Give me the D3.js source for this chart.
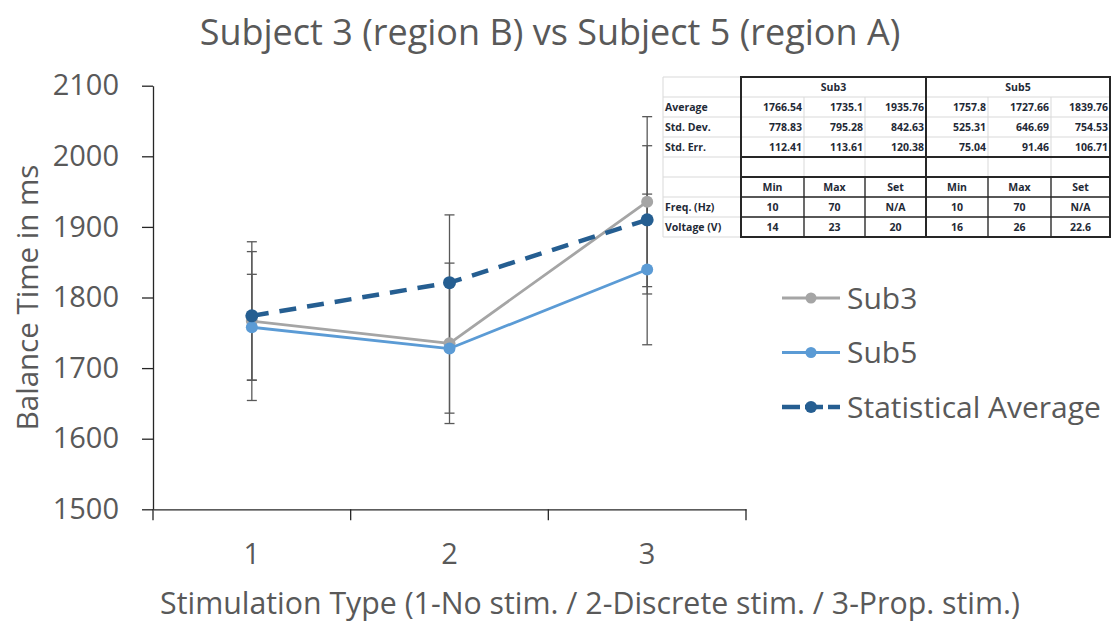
<!DOCTYPE html>
<html>
<head>
<meta charset="utf-8">
<script src="https://cdn.jsdelivr.net/npm/d3@7"></script>
<style>
  body { margin: 0; background: #fff; }
  svg { display: block; font-family: "Open Sans", Lato, sans-serif; }
</style>
</head>
<body>
<svg id="chart" width="1113" height="622"></svg>
<script>
// chart data
var stimTypes = [1, 2, 3]
var sub3Avg = [1766.54, 1735.1, 1935.76]
var sub5Avg = [1757.8, 1727.66, 1839.76]
var statAvg = [1774, 1821, 1910]
var sub3Err = [112.41, 113.61, 120.38]
var sub5Err = [75.04, 91.46, 106.71]
var statErr = [91, 96, 105]
var sub3Dev = [778.83, 795.28, 842.63]
var sub5Dev = [525.31, 646.69, 754.53]
var yTicks = [1500, 1600, 1700, 1800, 1900, 2000, 2100]
var seriesNames = ['Sub3', 'Sub5', 'Statistical Average']

// table data
var subjects = ['Sub3', 'Sub5']
var statLabels = ['Average', 'Std. Dev.', 'Std. Err.']
var paramCols = ['Min', 'Max', 'Set']
var paramLabels = ['Freq. (Hz)', 'Voltage (V)']
var sub3Params = [['10', '70', 'N/A'], ['14', '23', '20']]
var sub5Params = [['10', '70', 'N/A'], ['16', '26', '22.6']]

var svg = d3.select('#chart')
var textCol = '#595959'

var plotLeft = 153, plotRight = 746, plotTop = 85.7, plotBottom = 509.3

var x = d3.scaleBand().domain(stimTypes).range([plotLeft, plotRight]).paddingInner(0).paddingOuter(0)
var y = d3.scaleLinear().domain([1500, 2100]).range([plotBottom, plotTop])
var cx = function(d){ return x(d) + x.bandwidth() / 2 }

// title
svg.append('text')
  .attr('x', 550).attr('y', 45)
  .attr('text-anchor', 'middle')
  .style('font-size', '36px')
  .style('fill', textCol)
  .text('Subject 3 (region B) vs Subject 5 (region A)')

// y axis
var yAxis = svg.append('g')
  .attr('transform', 'translate(' + plotLeft + ',0)')
  .call(d3.axisLeft(y).tickValues(yTicks).tickFormat(d3.format('d')).tickSize(11).tickPadding(23).tickSizeOuter(0))
yAxis.select('.domain').attr('stroke', '#262626').attr('stroke-width', 1.3)
yAxis.selectAll('.tick line').attr('stroke', '#262626').attr('stroke-width', 1.3)
yAxis.selectAll('.tick text').style('font-size', '29px').style('fill', textCol).style('font-family', '"Open Sans", sans-serif')

// x axis
var xAxis = svg.append('g')
  .attr('transform', 'translate(0,' + plotBottom + ')')
  .call(d3.axisBottom(x).tickSize(0).tickPadding(34))
xAxis.select('.domain').attr('stroke', '#262626').attr('stroke-width', 1.3)
xAxis.selectAll('.tick text').style('font-size', '29px').style('fill', textCol).style('font-family', '"Open Sans", sans-serif')
var edges = stimTypes.map(function(d){ return x(d) }).concat([x.range()[1]])
xAxis.selectAll('.edge')
  .data(edges)
  .enter().append('line')
  .attr('x1', function(d){ return d }).attr('x2', function(d){ return d })
  .attr('y1', 0).attr('y2', 11)
  .attr('stroke', '#262626').attr('stroke-width', 1.3)

// axis titles
svg.append('text')
  .attr('transform', 'translate(38,' + ((plotTop + plotBottom) / 2) + ') rotate(-90)')
  .attr('text-anchor', 'middle')
  .style('font-size', '29.5px')
  .style('fill', textCol)
  .text('Balance Time in ms')

svg.append('text')
  .attr('x', 590).attr('y', 614)
  .attr('text-anchor', 'middle')
  .style('font-size', '30.3px')
  .style('fill', textCol)
  .text('Stimulation Type (1-No stim. / 2-Discrete stim. / 3-Prop. stim.)')

var series = [
  {name: seriesNames[0], vals: sub3Avg, err: sub3Err, color: '#a5a5a5', width: 2.8, dash: null, r: 6},
  {name: seriesNames[1], vals: sub5Avg, err: sub5Err, color: '#5b9bd5', width: 2.8, dash: null, r: 6},
  {name: seriesNames[2], vals: statAvg, err: statErr, color: '#255e91', width: 4.5, dash: '17 11', r: 6.5}
]

// error bars
var errG = svg.append('g')
series.forEach(function(s){
  stimTypes.forEach(function(t, i){
    var hi = y(s.vals[i] + s.err[i]), lo = y(s.vals[i] - s.err[i]), px = cx(t)
    errG.append('line').attr('x1', px).attr('x2', px).attr('y1', hi).attr('y2', lo)
      .attr('stroke', '#595959').attr('stroke-width', 1.3)
    ;[hi, lo].forEach(function(v){
      errG.append('line').attr('x1', px - 5).attr('x2', px + 5).attr('y1', v).attr('y2', v)
        .attr('stroke', '#595959').attr('stroke-width', 1.3)
    })
  })
})

var line = d3.line().x(function(d){ return cx(d[0]) }).y(function(d){ return y(d[1]) })

series.forEach(function(s){
  var pts = stimTypes.map(function(t, i){ return [t, s.vals[i]] })
  svg.append('path')
    .attr('d', line(pts))
    .attr('fill', 'none')
    .attr('stroke', s.color)
    .attr('stroke-width', s.width)
    .attr('stroke-dasharray', s.dash)
    .attr('stroke-linejoin', 'round')
  svg.selectAll(null)
    .data(pts)
    .enter().append('circle')
    .attr('cx', function(d){ return cx(d[0]) })
    .attr('cy', function(d){ return y(d[1]) })
    .attr('r', s.r)
    .attr('fill', s.color)
})

// legend
var legend = svg.append('g').attr('transform', 'translate(782,298)')
series.forEach(function(s, i){
  var g = legend.append('g').attr('transform', 'translate(0,' + (i * 54.5) + ')')
  g.append('line').attr('x1', 0).attr('x2', 58).attr('y1', 0).attr('y2', 0)
    .attr('stroke', s.color).attr('stroke-width', s.width)
    .attr('stroke-dasharray', s.dash ? '18 5' : null)
  g.append('circle').attr('cx', 29).attr('cy', 0).attr('r', s.r - 0.5).attr('fill', s.color)
  g.append('text').attr('x', 65).attr('y', 10.5)
    .style('font-size', '30px').style('fill', textCol)
    .text(s.name)
})

// stats table
var colX = [663, 741, 804, 865, 926, 988, 1051, 1110]
var rowY0 = 77, rowH = 20
var rowY = d3.range(9).map(function(i){ return rowY0 + i * rowH })
var tbl = svg.append('g').style('font-size', '10.5px').style('font-weight', 'bold')
var light = '#d9d9d9', dark = '#262626'

// light grid lines
rowY.forEach(function(v){
  tbl.append('line').attr('x1', colX[0]).attr('x2', colX[7]).attr('y1', v).attr('y2', v)
    .attr('stroke', light).attr('stroke-width', 1)
})
colX.forEach(function(v, j){
  var y1 = (j == 2 || j == 3 || j == 5 || j == 6) ? rowY[1] : rowY[0]
  tbl.append('line').attr('x1', v).attr('x2', v).attr('y1', y1).attr('y2', rowY[8])
    .attr('stroke', light).attr('stroke-width', 1)
})

// dark inner lines of the parameter block
;[rowY[6], rowY[7]].forEach(function(v){
  tbl.append('line').attr('x1', colX[1]).attr('x2', colX[7]).attr('y1', v).attr('y2', v)
    .attr('stroke', dark).attr('stroke-width', 1.3)
})
;[colX[2], colX[3], colX[5], colX[6]].forEach(function(v){
  tbl.append('line').attr('x1', v).attr('x2', v).attr('y1', rowY[5]).attr('y2', rowY[8])
    .attr('stroke', dark).attr('stroke-width', 1.3)
})
// thick borders
;[[1, 4], [4, 7]].forEach(function(c){
  tbl.append('rect').attr('x', colX[c[0]]).attr('y', rowY[0])
    .attr('width', colX[c[1]] - colX[c[0]]).attr('height', rowY[8] - rowY[0])
    .attr('fill', 'none').attr('stroke', dark).attr('stroke-width', 2)
})
;[rowY[4], rowY[5]].forEach(function(v){
  tbl.append('line').attr('x1', colX[1]).attr('x2', colX[7]).attr('y1', v).attr('y2', v)
    .attr('stroke', dark).attr('stroke-width', 2)
})

var tcol = '#1f2a36'
function cellText(txt, xPos, row, anchor) {
  tbl.append('text').attr('x', xPos).attr('y', rowY[row] + 14)
    .attr('text-anchor', anchor).style('fill', tcol).text(txt)
}

subjects.forEach(function(s, k){
  cellText(s, (colX[1 + k * 3] + colX[4 + k * 3]) / 2, 0, 'middle')
})
statLabels.forEach(function(l, r){ cellText(l, colX[0] + 2, r + 1, 'start') })
paramLabels.forEach(function(l, r){ cellText(l, colX[0] + 2, r + 6, 'start') })

var statsBySub = [[sub3Avg, sub3Dev, sub3Err], [sub5Avg, sub5Dev, sub5Err]]
statsBySub.forEach(function(rows, k){
  rows.forEach(function(vals, r){
    vals.forEach(function(v, c){
      cellText(String(v), colX[2 + k * 3 + c] - 2, r + 1, 'end')
    })
  })
})

var paramsBySub = [sub3Params, sub5Params]
subjects.forEach(function(s, k){
  paramCols.forEach(function(p, c){
    cellText(p, (colX[1 + k * 3 + c] + colX[2 + k * 3 + c]) / 2, 5, 'middle')
  })
  paramsBySub[k].forEach(function(vals, r){
    vals.forEach(function(v, c){
      cellText(v, (colX[1 + k * 3 + c] + colX[2 + k * 3 + c]) / 2, r + 6, 'middle')
    })
  })
})
</script>
</body>
</html>
